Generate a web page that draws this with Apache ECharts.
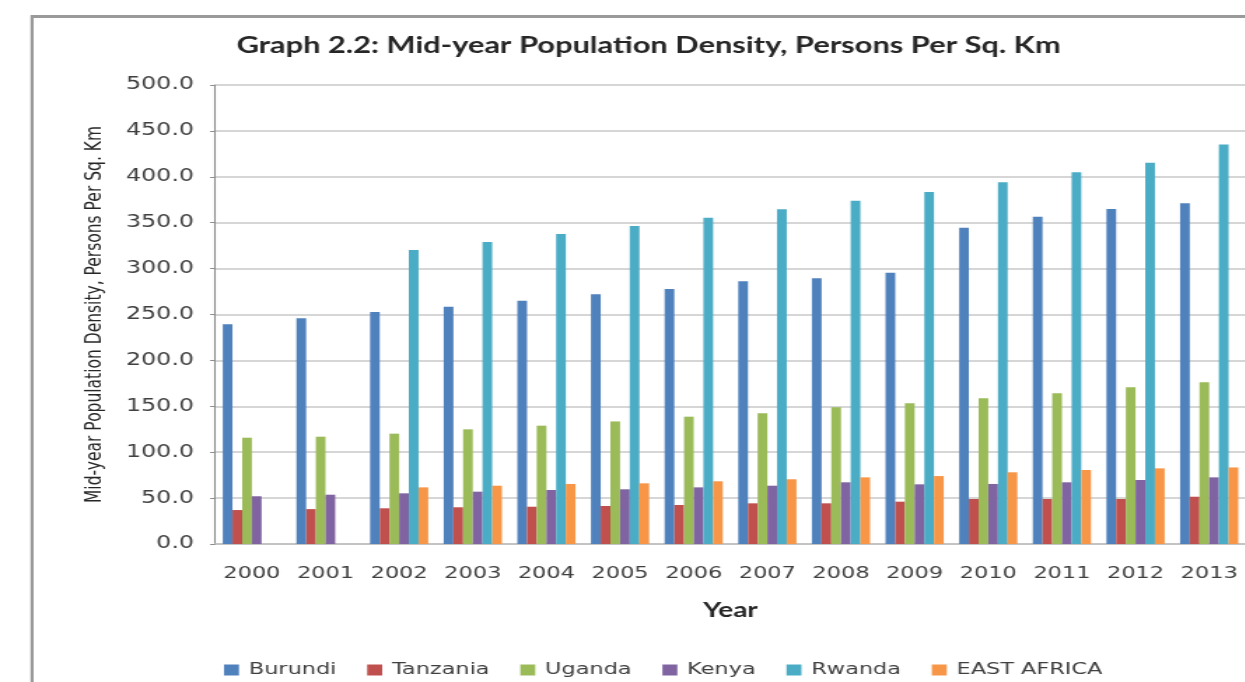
<!DOCTYPE html>
<html>
<head>
<meta charset="utf-8">
<script src="https://cdn.jsdelivr.net/npm/echarts@6/dist/echarts.min.js"></script>
<style>
  html, body { margin: 0; padding: 0; background: #ffffff; overflow: hidden; }
  #wrap { width: 1245px; height: 682px; overflow: hidden; position: relative; }
  /* the chart is laid out in a narrower box and widened horizontally */
  #chart { width: 890px; height: 682px; transform: scaleX(1.4); transform-origin: 0 0; }
</style>
</head>
<body>
<div id="wrap"><div id="chart"></div></div>
<script>
// Mid-year population density, persons per sq. km
const years = ['2000', '2001', '2002', '2003', '2004', '2005', '2006',
               '2007', '2008', '2009', '2010', '2011', '2012', '2013'];

const burundi  = [239.3, 245.8, 252.7, 258.5, 265.0, 272.0, 277.8, 286.1, 289.4, 295.6, 344.6, 356.6, 364.9, 371.1];
const tanzania = [37.0, 38.0, 38.9, 40.0, 40.6, 41.4, 42.5, 44.3, 44.3, 46.1, 49.0, 49.0, 49.0, 51.5];
const uganda   = [115.8, 116.9, 120.2, 124.9, 128.9, 133.5, 138.7, 142.4, 148.9, 153.2, 158.7, 164.2, 170.7, 176.1];
const kenya    = [52.0, 53.7, 55.2, 57.0, 58.8, 59.6, 61.7, 63.5, 67.2, 65.0, 65.4, 67.2, 69.7, 72.6];
const rwanda   = [null, null, 320.3, 329.0, 337.7, 346.4, 355.5, 364.6, 374.0, 383.4, 394.0, 404.9, 415.4, 435.2];
const eastAfrica = [null, null, 61.7, 63.5, 65.4, 66.1, 68.3, 70.5, 72.6, 74.0, 78.1, 80.6, 82.4, 83.4];

const seriesNames = ['Burundi', 'Tanzania', 'Uganda', 'Kenya', 'Rwanda', 'EAST AFRICA'];
const seriesData = [burundi, tanzania, uganda, kenya, rwanda, eastAfrica];
const colors = ['#4F81BD', '#C0504D', '#9BBB59', '#8064A2', '#4BACC6', '#F79646'];

const chart = echarts.init(document.getElementById('chart'), null, { renderer: 'canvas' });

const option = {
  animation: false,
  backgroundColor: '#ffffff',
  color: colors,
  title: {
    text: 'Graph 2.2: Mid-year Population Density, Persons Per Sq. Km',
    left: 164,
    top: 30,
    textStyle: { fontFamily: 'Lato', fontWeight: 'bold', fontSize: 22, color: '#262626' }
  },
  grid: { left: 153.6, top: 85, width: 738.6, bottom: 138, containLabel: false },
  legend: {
    data: seriesNames,
    left: 155,
    top: 657,
    itemWidth: 10.7,
    itemHeight: 11,
    itemGap: 22,
    icon: 'rect',
    textStyle: { fontFamily: 'DejaVu Sans', fontSize: 16, color: '#404040', padding: [0, 0, 0, 2] }
  },
  xAxis: {
    type: 'category',
    data: years,
    name: 'Year',
    nameLocation: 'middle',
    nameGap: 57,
    nameTextStyle: { fontFamily: 'Lato', fontWeight: 'bold', fontSize: 20, color: '#262626' },
    axisLine: { lineStyle: { color: '#bfbfbf', width: 1.5 } },
    axisTick: { show: false },
    axisLabel: { interval: 0, margin: 22, fontFamily: 'DejaVu Sans', fontSize: 16, color: '#404040' }
  },
  yAxis: {
    type: 'value',
    min: 0,
    max: 500,
    interval: 50,
    name: 'Mid-year Population Density, Persons Per Sq. Km',
    nameLocation: 'middle',
    nameGap: 78,
    nameTextStyle: { fontFamily: 'DejaVu Sans', fontSize: 15.5, color: '#262626' },
    axisLine: { show: true, lineStyle: { color: '#8c8c8c', width: 1.1 } },
    axisTick: { show: true, inside: false, length: 3.5, lineStyle: { color: '#8c8c8c', width: 1 } },
    axisLabel: {
      margin: 15,
      fontFamily: 'DejaVu Sans',
      fontSize: 17,
      color: '#404040',
      formatter: v => v.toFixed(1)
    },
    splitLine: { show: true, lineStyle: { color: '#c8c8c8', width: 1.6 } }
  },
  series: seriesNames.map((name, i) => ({
    name: name,
    type: 'bar',
    data: seriesData[i],
    barGap: '0%',
    barCategoryGap: '21%',
    itemStyle: { color: colors[i] }
  })),
  graphic: [
    { type: 'line', shape: { x1: 22.9, y1: 16.5, x2: 900, y2: 16.5 }, style: { stroke: '#9a9a9a', lineWidth: 3 }, silent: true },
    { type: 'line', shape: { x1: 22.9, y1: 15, x2: 22.9, y2: 700 }, style: { stroke: '#9a9a9a', lineWidth: 2.2 }, silent: true }
  ]
};

chart.setOption(option);
</script>
</body>
</html>
